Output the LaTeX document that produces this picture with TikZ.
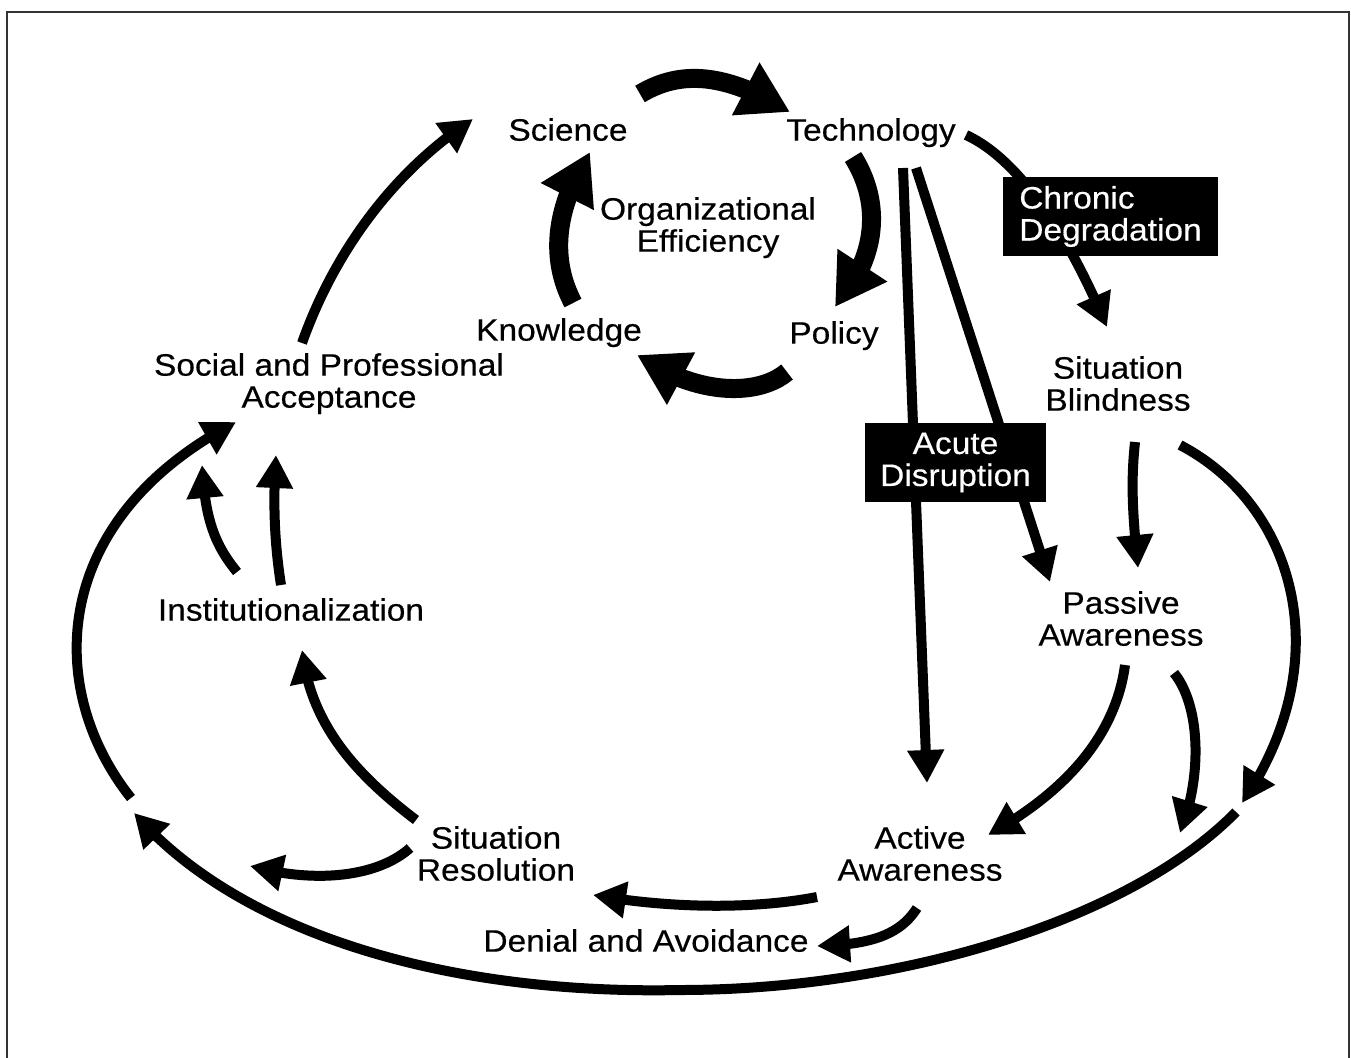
\documentclass[tikz,border=0pt]{standalone}
\usepackage{fontspec}
\setmainfont{Liberation Sans}[FakeStretch=1.08,FakeBold=0.4]
\usetikzlibrary{arrows.meta,bending}
\begin{document}
\begin{tikzpicture}[x=1pt,y=-1pt,
  lbl/.style={font=\fontsize{31}{32}\selectfont, inner sep=0pt, align=center, anchor=north},
  blackbox/.style={font=\fontsize{31}{32}\selectfont, fill=black, text=white, inner sep=0pt, minimum height=79pt},
  fatarr/.style={line width=19pt, -{Triangle[length=50pt,width=56pt]}},
  thinarr/.style={line width=10pt, -{Triangle[length=33pt,width=35pt]}},
  frame/.style={draw=black!80, line width=1.5pt}]
\useasboundingbox (0,0) rectangle (1351,1057);
\draw[frame] (7,1062) -- (7,12) -- (1349,12) -- (1349,1062);

% labels
\node[lbl] (sci) at (568,118) {Science};
\node[lbl] (tech) at (871,118) {Technology};
\node[lbl] (org) at (708,197) {Organizational\\Efficiency};
\node[lbl] (know) at (559,318) {Knowledge};
\node[lbl] (pol) at (834,321) {Policy};
\node[lbl] (spa) at (329,353) {Social and Professional\\Acceptance};
\node[lbl] (sitb) at (1118,356) {Situation\\Blindness};
\node[lbl] (pas) at (1121,591) {Passive\\Awareness};
\node[lbl] (inst) at (291,598) {Institutionalization};
\node[lbl] (act) at (920,826) {Active\\Awareness};
\node[lbl] (sitr) at (496,826) {Situation\\Resolution};
\node[lbl] (den) at (646,929) {Denial and Avoidance};

% connector end points
\coordinate (sciR) at (640,94);   \coordinate (techL) at (790,112);
\coordinate (techB) at (853,157); \coordinate (polT) at (835,307);
\coordinate (polB) at (787,372);  \coordinate (knowR) at (637,355);
\coordinate (knowT) at (573,303); \coordinate (sciB) at (590,152);
\coordinate (spaT) at (302,343);  \coordinate (sciL) at (473,119);
\coordinate (techR) at (966,135); \coordinate (sitbT) at (1107,327);
\coordinate (techB1) at (903,168); \coordinate (actT) at (927,783);
\coordinate (techB2) at (916,168); \coordinate (pasT) at (1050,582);
\coordinate (sitbB1) at (1135,442); \coordinate (pasT2) at (1138,568);
\coordinate (sitbB2) at (1180,445); \coordinate (outR) at (1242,803);
\coordinate (pasB1) at (1125,665); \coordinate (actR) at (988,835);
\coordinate (pasB2) at (1174,673); \coordinate (pasD) at (1180,833);
\coordinate (outS) at (1236,812);  \coordinate (outL) at (134,813);
\coordinate (leftS) at (131,798);  \coordinate (spaL) at (236,422);
\coordinate (instT1) at (237,572); \coordinate (spaB1) at (202,465);
\coordinate (instT2) at (281,585); \coordinate (spaB2) at (276,455);
\coordinate (sitrT) at (416,820);  \coordinate (instB) at (302,650);
\coordinate (sitrL) at (410,848);  \coordinate (sitrE) at (250,866);
\coordinate (actL) at (817,897);   \coordinate (sitrR) at (593,895);
\coordinate (actB) at (917,908);   \coordinate (denR) at (817,946);

% inner cycle
\draw[fatarr] (sciR) .. controls (680,70) and (725,72) .. (techL);
\draw[fatarr] (techB) .. controls (877,195) and (884,250) .. (polT);
\draw[fatarr] (polB) .. controls (760,395) and (700,398) .. (knowR);
\draw[fatarr] (knowT) .. controls (553,265) and (550,215) .. (sciB);

% outer connectors
\draw[thinarr] (spaT) .. controls (335,250) and (395,170) .. (sciL);
\draw[thinarr] (techR) .. controls (1010,155) and (1060,215) .. (sitbT);
\draw[thinarr] (techB1) -- (actT);
\draw[thinarr] (techB2) -- (pasT);
\draw[thinarr] (sitbB1) .. controls (1131,480) and (1132,510) .. (pasT2);
\draw[thinarr] (sitbB2) .. controls (1295,505) and (1340,660) .. (outR);
\draw[thinarr] (pasB1) .. controls (1115,740) and (1060,795) .. (actR);
\draw[thinarr] (pasB2) .. controls (1200,705) and (1203,775) .. (pasD);
\draw[thinarr] (outS) .. controls (1130,920) and (900,990) .. (680,990)
   .. controls (450,995) and (240,935) .. (outL);
\draw[thinarr] (leftS) .. controls (45,690) and (48,520) .. (spaL);
\draw[thinarr] (instT1) .. controls (215,545) and (205,520) .. (spaB1);
\draw[thinarr] (instT2) .. controls (274,540) and (273,500) .. (spaB2);
\draw[thinarr] (sitrT) .. controls (350,770) and (310,720) .. (instB);
\draw[thinarr] (sitrL) .. controls (380,875) and (320,885) .. (sitrE);
\draw[thinarr] (actL) .. controls (760,908) and (680,910) .. (sitrR);
\draw[thinarr] (actB) .. controls (900,935) and (870,945) .. (denR);

% black boxes
\node[blackbox, minimum width=215pt, align=left] (chron) at (1110.5,216.5) {Chronic\\Degradation};
\node[blackbox, minimum width=181pt, align=center] (acute) at (955.5,462.5) {Acute\\Disruption};
\end{tikzpicture}
\end{document}
